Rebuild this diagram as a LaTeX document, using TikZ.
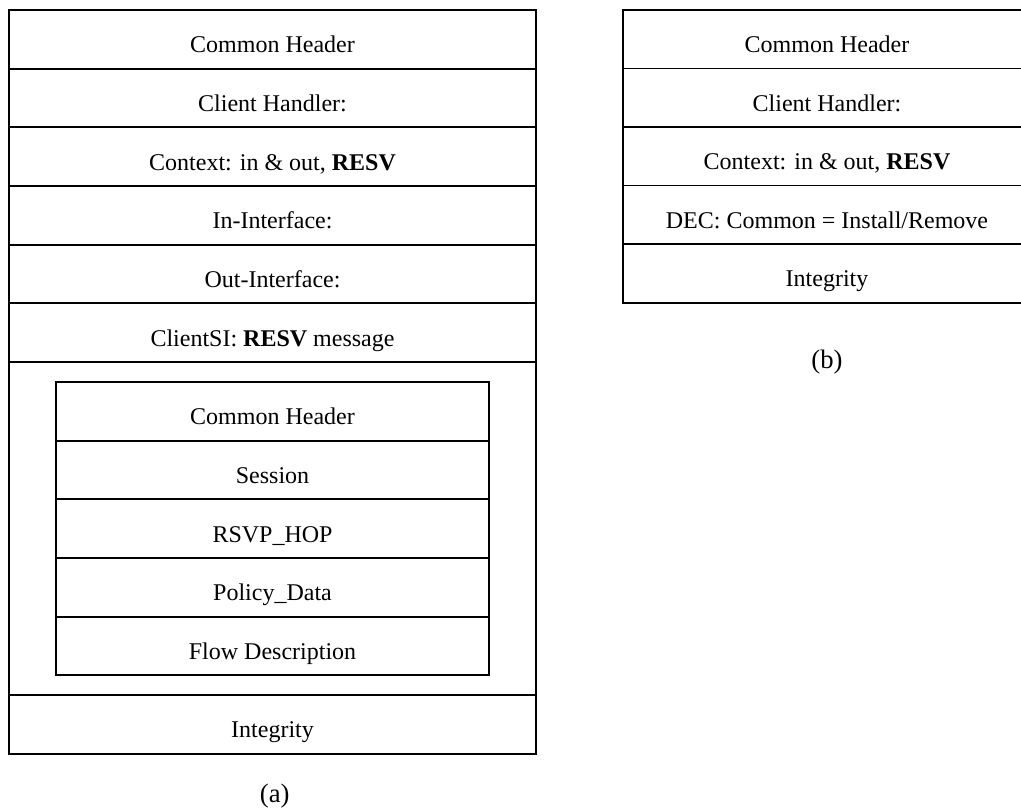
\documentclass[tikz,border=0pt]{standalone}
\usepackage{fontspec}
\setmainfont{Liberation Serif}
\usetikzlibrary{positioning}
\tikzstyle{FieldNode}=[draw,rectangle,inner sep=0pt,outer sep=0pt,minimum height=44pt,text height=20pt,text depth=0pt,font=\fontsize{18}{21}\selectfont]
\tikzstyle{RequestField}=[FieldNode,minimum width=395.25pt]
\tikzstyle{InnerField}=[FieldNode,minimum width=324.75pt]
\tikzstyle{DecisionField}=[FieldNode,minimum width=306pt,minimum height=43.9pt]
\tikzstyle{CaptionNode}=[draw=none,inner sep=0pt,anchor=base,font=\fontsize{20}{24}\selectfont]

\begin{document}
\begin{tikzpicture}[node distance=0pt,line width=1.3pt]
  \useasboundingbox (0,0) rectangle (765.75pt,-605.25pt);
  % (a) request message
  \node[RequestField,anchor=north](CommonHeaderA) at (204.4pt,-7.5pt){Common Header};
  \node[RequestField,below=of CommonHeaderA](ClientHandlerA){Client Handler:};
  \node[RequestField,below=of ClientHandlerA](ContextA){Context: in \& out, \textbf{RESV}};
  \node[RequestField,below=of ContextA](InInterface){In-Interface:};
  \node[RequestField,below=of InInterface](OutInterface){Out-Interface:};
  \node[RequestField,below=of OutInterface](ClientSI){ClientSI: \textbf{RESV} message};
  \node[RequestField,below=of ClientSI,minimum height=249.75pt](ResvMessage){};
  \node[InnerField,below=15pt of ResvMessage.north](InnerCommonHeader){Common Header};
  \node[InnerField,below=of InnerCommonHeader](Session){Session};
  \node[InnerField,below=of Session](RsvpHop){RSVP\_HOP};
  \node[InnerField,below=of RsvpHop](PolicyData){Policy\_Data};
  \node[InnerField,below=of PolicyData](FlowDescription){Flow Description};
  \node[RequestField,below=of ResvMessage](IntegrityA){Integrity};
  \node[CaptionNode](CaptionA) at (206pt,-601.5pt){(a)};

  % (b) decision message
  \node[DecisionField,anchor=north](CommonHeaderB) at (620.25pt,-7.5pt){Common Header};
  \node[DecisionField,below=of CommonHeaderB](ClientHandlerB){Client Handler:};
  \node[DecisionField,below=of ClientHandlerB](ContextB){Context: in \& out, \textbf{RESV}};
  \node[DecisionField,below=of ContextB](Decision){DEC: Common = Install/Remove};
  \node[DecisionField,below=of Decision](IntegrityB){Integrity};
  \node[CaptionNode](CaptionB) at (620.25pt,-276pt){(b)};
\end{tikzpicture}
\end{document}
